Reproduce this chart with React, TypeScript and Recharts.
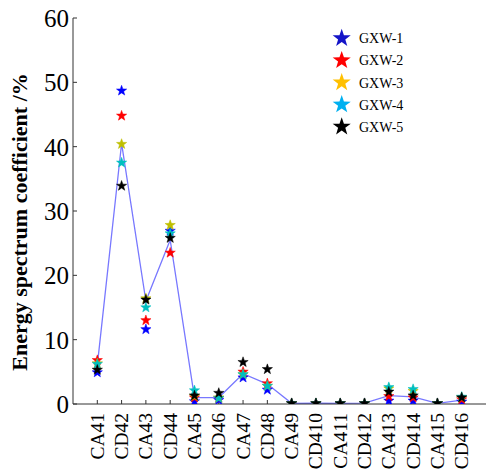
import React from 'react';
import { ComposedChart, Line, XAxis, YAxis, Legend } from 'recharts';

const categories = ['CA41', 'CD42', 'CA43', 'CD44', 'CA45', 'CD46', 'CA47', 'CD48', 'CA49', 'CD410', 'CA411', 'CD412', 'CA413', 'CD414', 'CA415', 'CD416'];
const gxw1 = [4.9, 48.7, 11.6, 26.9, 0.4, 0.6, 4.1, 2.2, 0.1, 0.1, 0.1, 0.1, 0.5, 0.5, 0.1, 0.35];
const gxw2 = [6.8, 44.8, 13.0, 23.5, 1.0, 0.9, 5.0, 3.2, 0.1, 0.1, 0.1, 0.1, 1.2, 1.0, 0.1, 0.7];
const gxw3 = [6.3, 40.4, 16.4, 27.8, 1.2, 1.0, 4.6, 2.8, 0.1, 0.1, 0.1, 0.1, 2.4, 2.0, 0.1, 1.0];
const gxw4 = [6.2, 37.5, 15.0, 26.5, 2.1, 0.9, 4.6, 2.8, 0.1, 0.1, 0.1, 0.1, 2.6, 2.3, 0.1, 1.1];
const gxw5 = [5.3, 33.9, 16.2, 25.8, 1.3, 1.7, 6.5, 5.4, 0.1, 0.1, 0.1, 0.1, 1.9, 1.3, 0.1, 1.0];
const trend = [6.0, 40.5, 16.0, 25.5, 1.0, 1.0, 4.7, 3.1, 0.1, 0.15, 0.1, 0.15, 1.3, 1.1, 0.1, 0.6];
const yTicks = [0, 10, 20, 30, 40, 50, 60];
const seriesNames = ['GXW-1', 'GXW-2', 'GXW-3', 'GXW-4', 'GXW-5'];
const markerColors = ['#0000ff', '#ff0000', '#bfbf00', '#00bfbf', '#000000'];
const legendColors = ['#1414c8', '#ff0000', '#ffc000', '#00b0f0', '#000000'];

const data = categories.map((name, i) => ({
  name,
  g1: gxw1[i],
  g2: gxw2[i],
  g3: gxw3[i],
  g4: gxw4[i],
  g5: gxw5[i],
  trend: trend[i],
}));

const FONT = 'Liberation Serif, Times New Roman, serif';

function starPoints(cx: number, cy: number, R: number, r: number) {
  const pts: string[] = [];
  for (let k = 0; k < 10; k++) {
    const ang = -Math.PI / 2 + (k * Math.PI) / 5;
    const rad = k % 2 === 0 ? R : r;
    pts.push(`${(cx + rad * Math.cos(ang)).toFixed(2)},${(cy + rad * Math.sin(ang)).toFixed(2)}`);
  }
  return pts.join(' ');
}

const makeStar = (color: string) => (props: any) => {
  const { cx, cy, index } = props;
  if (cx == null || cy == null) return <g key={`s-${index}`} />;
  return (
    <polygon
      key={`s-${color}-${index}`}
      points={starPoints(cx, cy, 5.4, 2.2)}
      fill={color}
      stroke={color}
      strokeWidth={0.5}
      strokeLinejoin="miter"
    />
  );
};

const XTick = (props: any) => {
  const { x, y, payload } = props;
  return (
    <text
      transform={`translate(${x + 6.5},${y}) rotate(-90)`}
      textAnchor="end"
      fontSize={19.5}
      fontFamily={FONT}
      fill="#000"
    >
      {payload.value}
    </text>
  );
};

const YTick = (props: any) => {
  const { x, y, payload } = props;
  return (
    <text x={x} y={y} dy={9} textAnchor="end" fontSize={25} fontFamily={FONT} fill="#000">
      {payload.value}
    </text>
  );
};

const renderLegend = () => (
  <svg width={140} height={120}>
    {seriesNames.map((n, i) => {
      const cy = 16.3 + i * 22.1;
      return (
        <g key={n}>
          <polygon points={starPoints(16.7, cy, 9.5, 3.8)} fill={legendColors[i]} />
          <text x={34} y={cy + 5} fontSize={14} fontFamily={FONT} fill="#000">
            {n}
          </text>
        </g>
      );
    })}
  </svg>
);

export default function App() {
  return (
    <div style={{ position: 'absolute', left: 0, top: 0, width: 487, height: 471, background: '#fff' }}>
      <ComposedChart width={487} height={471} data={data} margin={{ top: 18, right: 1, bottom: 0, left: 0 }}>
        <XAxis
          dataKey="name"
          xAxisId="bottom"
          scale="point"
          padding={{ left: 24.3, right: 24.3 }}
          height={67}
          interval={0}
          tickSize={-4}
          tickMargin={13}
          tick={<XTick />}
          stroke="#333"
          axisLine={{ stroke: '#333' }}
          tickLine={{ stroke: '#333' }}
        />
        <XAxis
          dataKey="name"
          xAxisId="top"
          orientation="top"
          scale="point"
          padding={{ left: 24.3, right: 24.3 }}
          height={0}
          interval={0}
          tickSize={-4}
          tick={false}
          stroke="#333"
        />
        <YAxis
          yAxisId="left"
          domain={[0, 60]}
          ticks={yTicks}
          width={73}
          tickSize={-4}
          tickMargin={8}
          tick={<YTick />}
          stroke="#333"
          allowDataOverflow
        />
        <YAxis
          yAxisId="right"
          orientation="right"
          domain={[0, 60]}
          ticks={yTicks}
          width={0}
          tickSize={-4}
          tick={false}
          stroke="#333"
          allowDataOverflow
        />
        <Legend
          layout="vertical"
          align="center"
          verticalAlign="middle"
          content={renderLegend}
          wrapperStyle={{ left: 325, top: 22, width: 140, height: 120 }}
        />
        {['g1', 'g2', 'g3', 'g4', 'g5'].map((k, i) => (
          <Line
            key={k}
            xAxisId="bottom"
            yAxisId="left"
            dataKey={k}
            name={seriesNames[i]}
            stroke="none"
            dot={makeStar(markerColors[i])}
            activeDot={false}
            isAnimationActive={false}
          />
        ))}
        <Line
          xAxisId="top"
          yAxisId="right"
          dataKey="trend"
          stroke="#7878ff"
          strokeWidth={1.3}
          dot={false}
          activeDot={false}
          isAnimationActive={false}
          legendType="none"
        />
        <text transform="translate(27,222) rotate(-90)" textAnchor="middle" fontSize={22} fontWeight="bold" fontFamily={FONT} fill="#000">
          Energy spectrum coefficient /%
        </text>
      </ComposedChart>
    </div>
  );
}
